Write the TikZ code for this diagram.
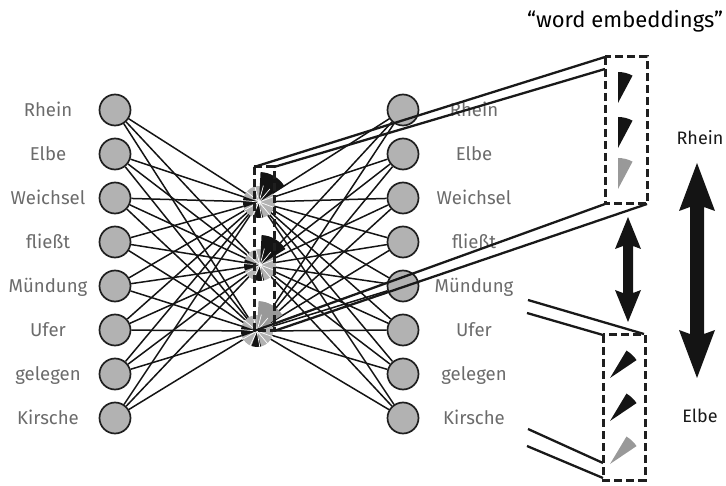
\documentclass[tikz,border=0pt]{standalone}
\usepackage{fontspec}
\setmainfont{Fira Sans}
\begin{document}
\begin{tikzpicture}[x=1pt,y=-1pt,
  unit/.style={circle, draw=black!88, line width=1.7pt, fill=black!30, minimum size=31pt, inner sep=0pt},
  wordlbl/.style={anchor=base, text=black!58, font=\fontsize{18.6}{21}\selectfont},
  sidelbl/.style={anchor=base, text=black!90, font=\fontsize{18}{20}\selectfont},
  link/.style={line width=1.5pt, black!92},
  prism/.style={line width=2.3pt, black!90},
  dbox/.style={line width=3pt, black!88, dash pattern=on 8pt off 4pt},
  ray/.style={white, line width=0.7pt},
  bigarrow/.style={fill=black!92}
]
\useasboundingbox (0,0) rectangle (726,486);

% input and output layers
\foreach \w [count=\i] in {Rhein,Elbe,Weichsel,flie{\ss}t,M{\"u}ndung,Ufer,gelegen,Kirsche}{
  \node[unit] (l\i) at (115,{110+44*(\i-1)}) {};
  \node[wordlbl] (lt\i) at (48,{116.5+44*(\i-1)}) {\w};
  \node[unit] (r\i) at (403,{110+44*(\i-1)}) {};
  \node[wordlbl] (rt\i) at (474,{116.5+44*(\i-1)}) {\w};
}

% hidden layer
\coordinate (h1) at (259,202);
\coordinate (h2) at (260,265);
\coordinate (h3) at (257,331);

\foreach \i in {1,...,8}
  \foreach \j in {1,2,3}{
    \draw[link] (l\i) -- (h\j);
    \draw[link] (r\i) -- (h\j);
  }

% hidden units drawn as pie-like discs
\foreach \j/\c in {1/black!92,2/black!92,3/black!40}{
  \fill[black!30] (h\j) circle (16);
  \fill[\c] (h\j) -- ++(-32:30) arc (-32:-87:30) -- cycle;
  \fill[black!92] (h\j) -- ++(-160:16) arc (-160:-200:16) -- cycle;
  \fill[black!92] (h\j) -- ++(-250:16) arc (-250:-285:16) -- cycle;
  \foreach \a in {-20,-50,-75,-105,-140,-175,-210,-245,-280,-310,-340}
    \draw[ray] (h\j) -- ++(\a:17);
}

% dashed box round the hidden layer
\coordinate (sTL) at (254,167);
\coordinate (sTR) at (274,167);
\coordinate (sBL) at (254,331);
\coordinate (sBR) at (274,331);
\draw[dbox] (sTL) rectangle (sBR);

% upper embedding box and its prism edges
\coordinate (uTL) at (605,57);
\coordinate (uTM) at (605,69);
\coordinate (uBL) at (605,204);
\coordinate (uBR) at (647,204);
\draw[prism] (sTL) -- (uTL);
\draw[prism] (sTR) -- (uTM);
\draw[prism] (sBL) -- (uBL);
\draw[prism] (sBR) -- (uBR);
\draw[dbox] (605,57) rectangle (647,204);

% lower embedding box and its prism edges
\coordinate (a1) at (528,300);
\coordinate (a2) at (527,313);
\coordinate (a3) at (528,429);
\coordinate (a4) at (527,446);
\coordinate (bTR) at (644,334);
\coordinate (bTL) at (603,335);
\coordinate (bL1) at (603,463);
\coordinate (bL2) at (603,478);
\draw[prism] (a1) -- (bTR);
\draw[prism] (a2) -- (bTL);
\draw[prism] (a3) -- (bL1);
\draw[prism] (a4) -- (bL2);
\draw[dbox] (603,335) rectangle (645,480);

% vector components as wedges
\foreach \y/\c in {103/black!92,148/black!92,189/black!40}
  \fill[\c] (618,\y) -- ++(-62:31) arc (-62:-90:31) -- cycle;
\foreach \y/\c in {378/black!92,421/black!92,464/black!40}
  \fill[\c] (610,\y) -- ++(-34:32) arc (-34:-59:32) -- cycle;

% double arrows
\fill[bigarrow] (628,217) -- (641,249) -- (633,246) -- (633,293) -- (641,290) -- (628,322)
  -- (615,290) -- (623,293) -- (623,246) -- (615,249) -- cycle;
\fill[bigarrow] (697,163) -- (715,211) -- (704,207) -- (704,334) -- (715,330) -- (697,378)
  -- (679,330) -- (690,334) -- (690,207) -- (679,211) -- cycle;

\node[sidelbl] (rh) at (700,145) {Rhein};
\node[sidelbl] (el) at (700,422) {Elbe};
\node[anchor=base, text=black, font=\fontsize{22}{26}\selectfont] (we) at (625,28) {“word embeddings”};
\end{tikzpicture}
\end{document}
